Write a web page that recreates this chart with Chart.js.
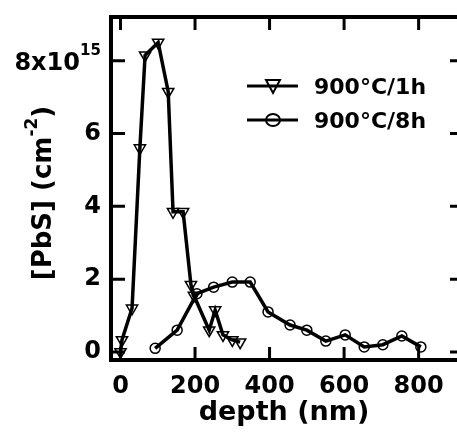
<!DOCTYPE html>
<html>
<head>
<meta charset="utf-8">
<script src="https://cdn.jsdelivr.net/npm/chart.js@4"></script>
<style>
  html, body { margin: 0; padding: 0; background: #fff; }
  #wrap { width: 457px; height: 432px; }
</style>
</head>
<body>
<div id="wrap"><canvas id="pbsChart" width="457" height="432"></canvas></div>
<script>
// data (depth in nm, [PbS] in units of 1e15 cm^-2)
const depth1h = [0, 4, 31, 52, 66, 101, 128, 141, 168, 189, 197, 238, 254, 275, 300, 321];
const pbs1h   = [0.0, 0.33, 1.2, 5.6, 8.15, 8.5, 7.15, 3.85, 3.85, 1.85, 1.55, 0.6, 1.15, 0.47, 0.33, 0.27];

const depth8h = [93, 152, 205, 250, 300, 348, 396, 455, 500, 551, 603, 654, 704, 755, 806];
const pbs8h   = [0.1, 0.6, 1.6, 1.78, 1.92, 1.92, 1.1, 0.74, 0.6, 0.3, 0.47, 0.14, 0.2, 0.44, 0.14];

const xTicks = [0, 200, 400, 600, 800];
const yTicks = [0, 2, 4, 6, 8];

const labels1h = '900\u00B0C/1h';
const labels8h = '900\u00B0C/8h';

const FONT = '"DejaVu Sans", Verdana, sans-serif';

function toPoints(xs, ys) {
    return xs.map((x, i) => ({ x: x, y: ys[i] }));
}

function noPad(s) {
    s.paddingLeft = 0;
    s.paddingRight = 0;
    s.paddingTop = 0;
    s.paddingBottom = 0;
}

// frame, inward ticks, legend and the special labels
const decorPlugin = {
    id: 'decor',
    afterDraw(chart) {
        const ctx = chart.ctx;
        const a = chart.chartArea;
        const xs = chart.scales.x;
        const ys = chart.scales.y;
        ctx.save();
        ctx.strokeStyle = '#000';
        ctx.lineCap = 'butt';

        // frame (right edge falls outside the picture)
        ctx.lineWidth = 4;
        ctx.beginPath();
        ctx.moveTo(a.right + 2, a.top);
        ctx.lineTo(a.left, a.top);
        ctx.lineTo(a.left, a.bottom);
        ctx.lineTo(a.right + 2, a.bottom);
        ctx.stroke();

        // inward ticks
        ctx.lineWidth = 3;
        ctx.beginPath();
        xTicks.forEach(v => {
            const px = xs.getPixelForValue(v);
            ctx.moveTo(px, a.bottom);
            ctx.lineTo(px, a.bottom - 13);
            ctx.moveTo(px, a.top);
            ctx.lineTo(px, a.top + 13);
        });
        yTicks.forEach(v => {
            const py = ys.getPixelForValue(v);
            ctx.moveTo(a.left, py);
            ctx.lineTo(a.left + 14, py);
            ctx.moveTo(a.right, py);
            ctx.lineTo(a.right - 7, py);
        });
        ctx.stroke();

        // 8x10^15 label
        const y8 = ys.getPixelForValue(8);
        ctx.fillStyle = '#000';
        ctx.textBaseline = 'middle';
        ctx.textAlign = 'right';
        ctx.font = 'bold 24px ' + FONT;
        ctx.fillText('8x10', 80, y8 + 3);
        ctx.textAlign = 'left';
        ctx.font = 'bold 15px ' + FONT;
        ctx.fillText('15', 80, y8 - 10);

        // y title, rotated
        ctx.save();
        ctx.translate(44, 193);
        ctx.rotate(-Math.PI / 2);
        ctx.textBaseline = 'middle';
        ctx.textAlign = 'left';
        const big = 'bold 26px ' + FONT;
        const small = 'bold 17px ' + FONT;
        ctx.font = big;
        const p1 = '[PbS] (cm';
        const w1 = ctx.measureText(p1).width;
        ctx.font = small;
        const w2 = ctx.measureText('-2').width;
        ctx.font = big;
        const w3 = ctx.measureText(')').width;
        let x0 = -(w1 + w2 + w3) / 2;
        ctx.fillText(p1, x0, 0);
        ctx.font = small;
        ctx.fillText('-2', x0 + w1, -11);
        ctx.font = big;
        ctx.fillText(')', x0 + w1 + w2, 0);
        ctx.restore();

        // legend (line drawn through open markers)
        const rows = [
            { text: labels1h, ds: chart.data.datasets[0], y: 86 },
            { text: labels8h, ds: chart.data.datasets[1], y: 120 }
        ];
        rows.forEach(r => {
            ctx.lineWidth = 3;
            ctx.beginPath();
            ctx.moveTo(247, r.y);
            ctx.lineTo(298, r.y);
            ctx.stroke();
            ctx.lineWidth = 2;
            ctx.beginPath();
            if (r.ds.pointStyle === 'triangle') {
                ctx.moveTo(266, r.y - 6);
                ctx.lineTo(280, r.y - 6);
                ctx.lineTo(273, r.y + 7);
                ctx.closePath();
            } else {
                ctx.ellipse(273, r.y, 7, 6, 0, 0, Math.PI * 2);
            }
            ctx.stroke();
            ctx.fillStyle = '#000';
            ctx.font = 'bold 22px ' + FONT;
            ctx.textAlign = 'left';
            ctx.textBaseline = 'middle';
            ctx.fillText(r.text, 314, r.y + 2);
        });

        ctx.restore();
    }
};

const config = {
    type: 'scatter',
    data: {
        datasets: [
            {
                label: labels1h,
                data: toPoints(depth1h, pbs1h),
                showLine: true,
                borderColor: '#000',
                borderWidth: 3.5,
                backgroundColor: 'rgba(0,0,0,0)',
                pointStyle: 'triangle',
                rotation: 180,
                pointRadius: 6.5,
                pointBorderWidth: 1.5,
                pointBorderColor: '#000',
                pointBackgroundColor: 'rgba(0,0,0,0)',
                order: 1
            },
            {
                label: labels8h,
                data: toPoints(depth8h, pbs8h),
                showLine: true,
                borderColor: '#000',
                borderWidth: 3.5,
                backgroundColor: 'rgba(0,0,0,0)',
                pointStyle: 'circle',
                pointRadius: 5,
                pointBorderWidth: 1.5,
                pointBorderColor: '#000',
                pointBackgroundColor: 'rgba(0,0,0,0)',
                order: 2
            }
        ]
    },
    options: {
        responsive: false,
        animation: false,
        layout: { autoPadding: false, padding: { top: 17, right: 0, left: 0, bottom: 0 } },
        scales: {
            x: {
                type: 'linear',
                min: -25.5,
                max: 903,
                afterFit: s => { s.height = 72; noPad(s); },
                afterBuildTicks: s => { s.ticks = xTicks.map(v => ({ value: v })); },
                grid: { display: false, drawTicks: false },
                border: { display: false },
                ticks: {
                    color: '#000',
                    font: { family: FONT, size: 24, weight: 'bold' },
                    padding: 12,
                    maxRotation: 0
                },
                title: {
                    display: true,
                    text: 'depth (nm)',
                    color: '#000',
                    font: { family: FONT, size: 27, weight: 'bold' },
                    padding: { top: 0, bottom: 3 }
                }
            },
            y: {
                type: 'linear',
                min: -0.22,
                max: 9.2,
                afterFit: s => { s.width = 111; noPad(s); },
                afterBuildTicks: s => { s.ticks = yTicks.map(v => ({ value: v })); },
                grid: { display: false, drawTicks: false },
                border: { display: false },
                ticks: {
                    color: '#000',
                    font: { family: FONT, size: 24, weight: 'bold' },
                    padding: 10,
                    callback: v => (v === 8 ? '' : String(v))
                }
            }
        },
        plugins: {
            legend: { display: false },
            tooltip: { enabled: false }
        }
    },
    plugins: [decorPlugin]
};

const pbsChart = new Chart(document.getElementById('pbsChart'), config);
</script>
</body>
</html>
